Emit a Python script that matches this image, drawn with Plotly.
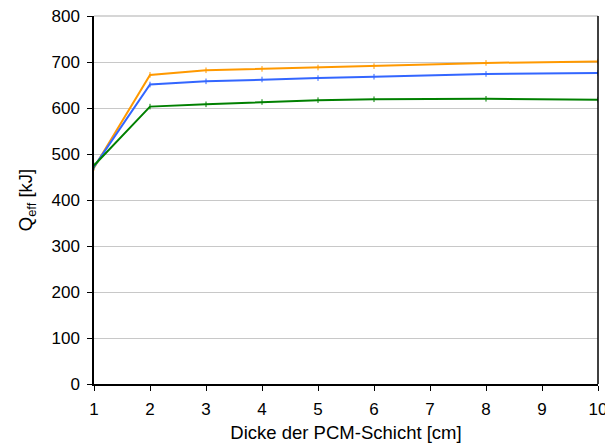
import plotly.graph_objects as go

x_cm = [1, 2, 3, 4, 5, 6, 8, 10]
orange_vals = [470, 672, 682, 685, 688, 691, 698, 701]
blue_vals = [472, 651, 658, 662, 665, 668, 674, 676]
green_vals = [475, 603, 608, 613, 617, 619, 620, 618]

series = [
    ("A", orange_vals, "#FF9900"),
    ("B", blue_vals, "#3366FF"),
    ("C", green_vals, "#008000"),
]

fig = go.Figure()
for name, vals, col in series:
    fig.add_trace(go.Scatter(
        x=x_cm, y=vals, mode="lines+markers", name=name,
        line=dict(color=col, width=2),
        marker=dict(symbol="line-ns", size=4, line=dict(color=col, width=1)),
        showlegend=False,
    ))

tick_font = dict(family="Liberation Sans, Arial, sans-serif", size=17, color="black")
title_font = dict(family="Liberation Sans, Arial, sans-serif", size=18.5, color="black")

fig.update_layout(
    width=605, height=440,
    margin=dict(l=86, r=15, t=8, b=64, autoexpand=False),
    paper_bgcolor="white", plot_bgcolor="white",
    font=tick_font,
    xaxis=dict(
        range=[1, 10], tickvals=list(range(1, 11)),
        showgrid=False, zeroline=False,
        showline=True, linecolor="black", linewidth=1.5,
        ticks="outside", ticklen=5, tickcolor="black",
        ticklabelstandoff=4, ticklabeloverflow="allow",
        title=dict(text="Dicke der PCM-Schicht [cm]", standoff=8, font=title_font),
        tickfont=tick_font, automargin=False,
    ),
    yaxis=dict(
        range=[0, 800], tickvals=list(range(0, 801, 100)),
        showgrid=True, gridcolor="#C8C8C8", gridwidth=1,
        zeroline=False,
        showline=True, linecolor="black", linewidth=1.5,
        ticks="outside", ticklen=5, tickcolor="black",
        ticklabelstandoff=4, ticklabeloverflow="allow",
        title=dict(text="Q<sub>eff</sub> [kJ]", standoff=14, font=title_font),
        tickfont=tick_font, automargin=False,
    ),
    shapes=[
        dict(type="line", xref="paper", yref="paper", x0=1, x1=1, y0=0, y1=1,
             line=dict(color="black", width=1.5)),
        dict(type="line", xref="paper", yref="paper", x0=0, x1=1, y0=1, y1=1,
             line=dict(color="#C8C8C8", width=1.5), layer="below"),
    ],
)

fig.write_html("out.html")
